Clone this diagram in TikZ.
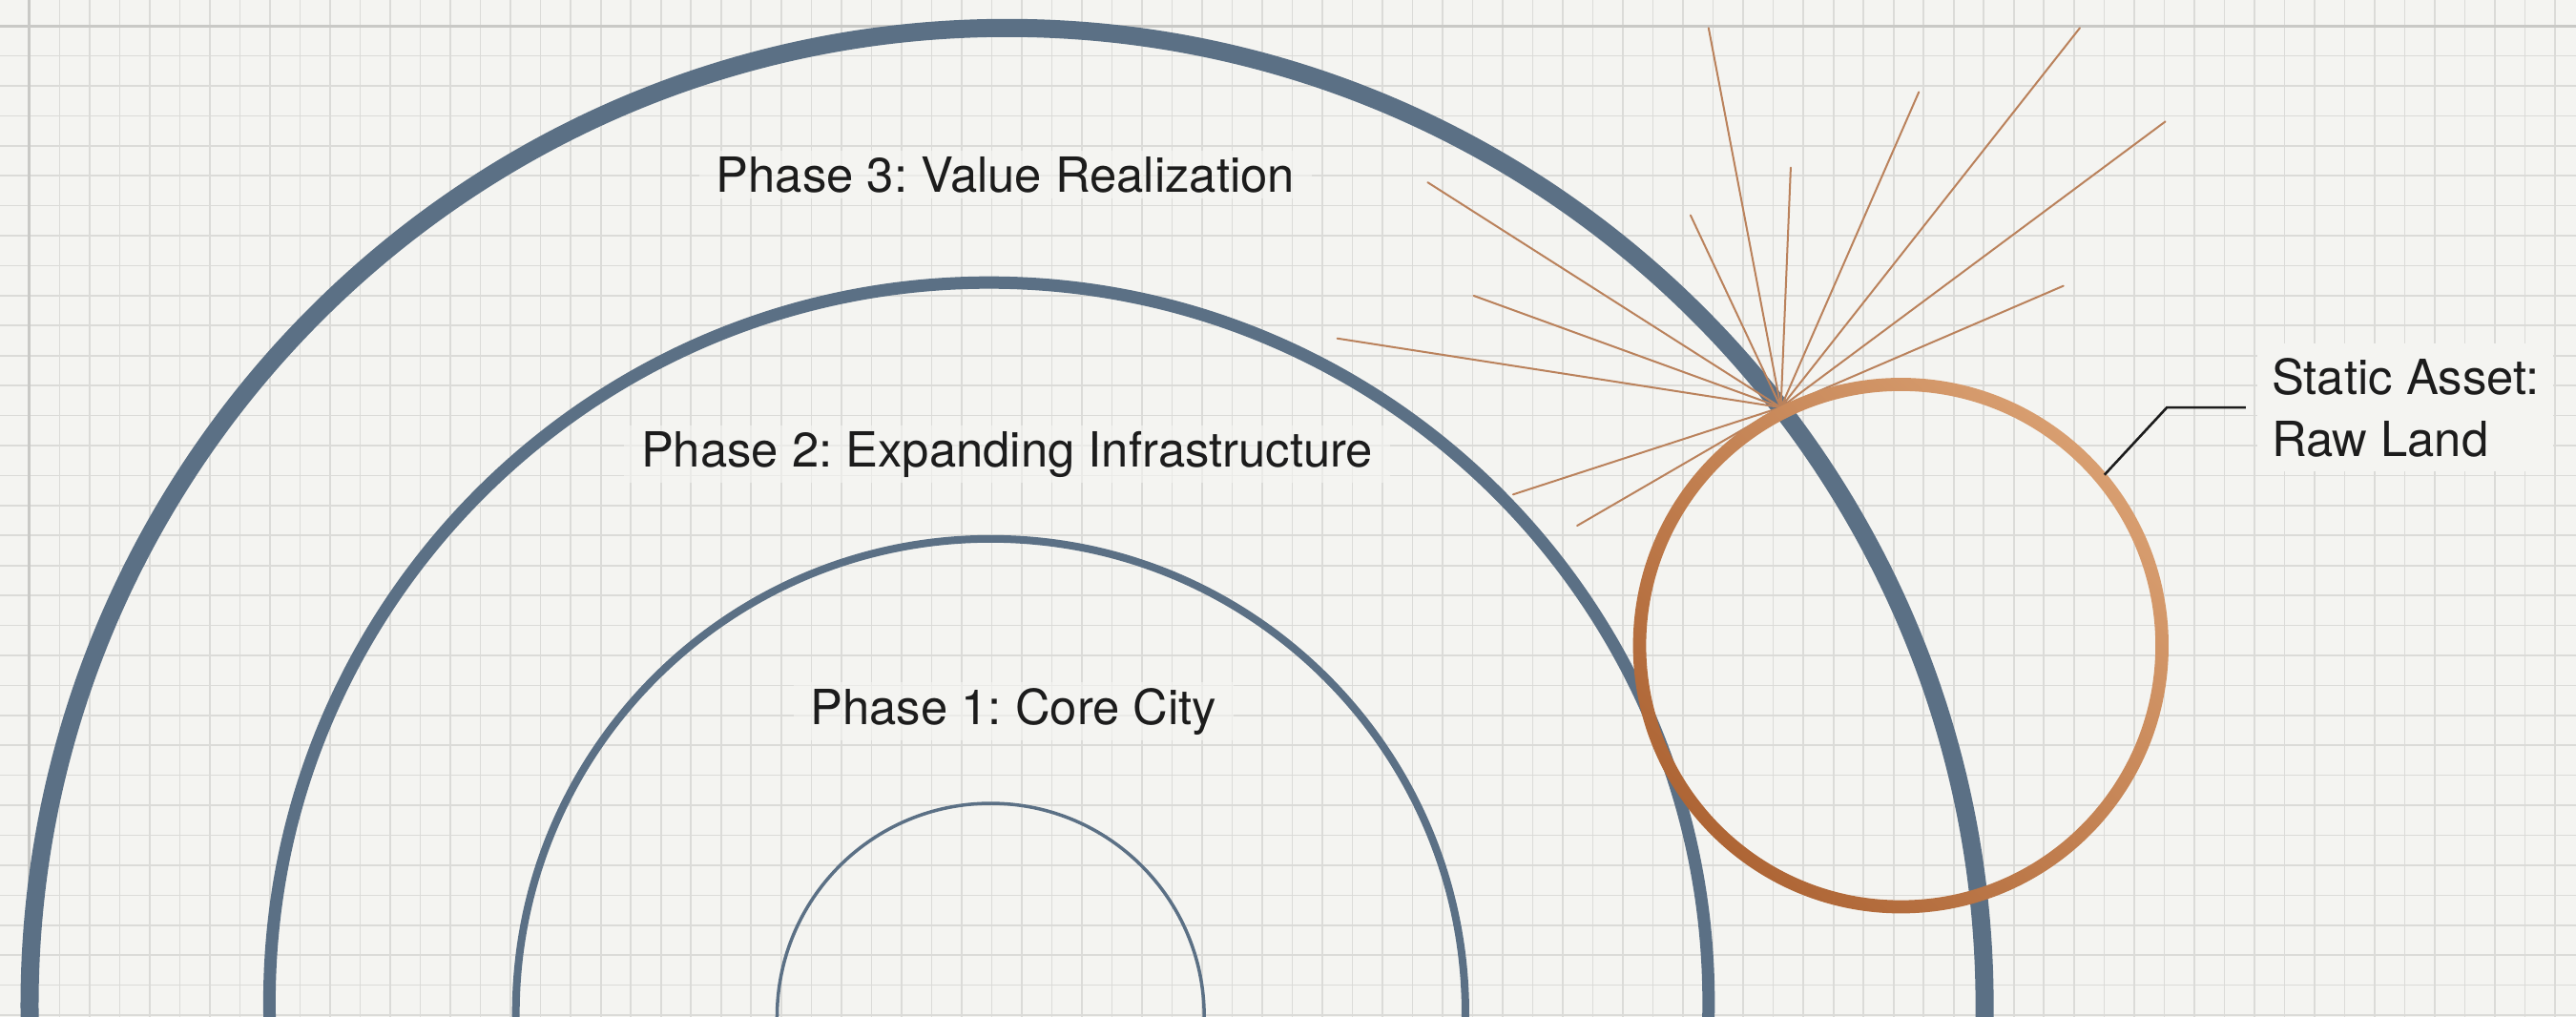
\documentclass[tikz,border=0pt]{standalone}
\usepackage{fontspec}
\setmainfont{TeX Gyre Heros}
\frenchspacing
\definecolor{paper}{HTML}{F4F4F1}
\definecolor{gridc}{HTML}{DBDBD8}
\definecolor{gridmajor}{HTML}{C9C9C6}
\definecolor{ringblue}{HTML}{5B7085}
\definecolor{copperlight}{HTML}{D89E70}
\definecolor{copperdark}{HTML}{AE6535}
\definecolor{raycol}{HTML}{BA825C}
\definecolor{ink}{HTML}{1C1C1C}
\tikzset{
  gridline/.style={draw=gridc, line width=1.6pt},
  gridmajorline/.style={draw=gridmajor, line width=3pt},
  ring/.style={draw=ringblue},
  ray/.style={draw=raycol, line width=2pt, line cap=round},
  phase/.style={font=\fontsize{50.8}{61}\selectfont, text=ink, fill=paper, fill opacity=0.6, text opacity=1, inner xsep=18pt, inner ysep=6pt, anchor=base},
  callout/.style={font=\fontsize{50.8}{65.4}\selectfont, text=ink, fill=paper, inner sep=15pt, align=left, anchor=north west},
  leader/.style={draw=ink, line width=2.6pt},
}
\begin{document}
\begin{tikzpicture}[x=1.722pt, y=-1.722pt]
\useasboundingbox (0,0) rectangle (1568,619);
\fill[paper] (0,0) rectangle (1568,619);
\begin{scope}
\clip (0,0) rectangle (1568,619);
% grid
\foreach \i in {0,...,85} { \draw[gridline] ({18+\i*18.3},0) -- ({18+\i*18.3},619); }
\foreach \j in {0,...,33} { \draw[gridline] (0,{15.7+\j*18.25}) -- (1568,{15.7+\j*18.25}); }
\draw[gridmajorline] (18,0) -- (18,619);
\draw[gridmajorline] (0,15.7) -- (1568,15.7);
% concentric rings
\draw[ring, line width=3.5pt] (603,619) circle (130);
\draw[ring, line width=8pt] (603,617) circle (289);
\draw[ring, line width=13pt] (602,610) circle (438);
\draw[ring, line width=19pt] (613,612) circle (595);
% burst
\coordinate (burst) at (1084,248);
\coordinate (r1) at (1040,17);
\coordinate (r2) at (1266,17);
\coordinate (r3) at (1168,56);
\coordinate (r4) at (1318,74);
\coordinate (r5) at (1090,102);
\coordinate (r6) at (869,111);
\coordinate (r7) at (1029,131);
\coordinate (r8) at (897,180);
\coordinate (r9) at (1256,174);
\coordinate (r10) at (814,206);
\coordinate (r11) at (921,301);
\coordinate (r12) at (960,320);
\foreach \k in {1,...,12} { \draw[ray] (burst) -- (r\k); }
% raw land ring
\coordinate (land) at (1157,393);
\shade[top color=copperlight, bottom color=copperdark, shading angle=-45, even odd rule]
  (land) circle (163) (land) circle (155);
\end{scope}
% labels
\node[phase] (p3) at (612,117) {Phase 3: Value Realization};
\node[phase] (p2) at (613,284) {Phase 2: Expanding Infrastructure};
\node[phase] (p1) at (617,441) {Phase 1: Core City};
\node[callout] (asset) at (1374,209) {Static Asset:\\Raw Land};
% leader
\coordinate (leadstart) at (1281,289);
\coordinate (knee) at (1319,248);
\coordinate (leadend) at (1367,248);
\draw[leader] (leadstart) -- (knee) -- (leadend);
\end{tikzpicture}
\end{document}
